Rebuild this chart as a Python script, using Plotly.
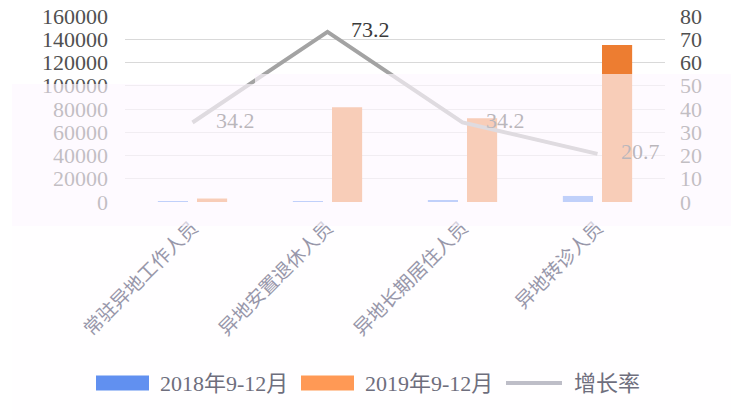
import plotly.graph_objects as go

# ---------------- data ----------------
categories = ["常驻异地工作人员", "异地安置退休人员", "异地长期居住人员", "异地转诊人员"]
series_2018_name = "2018年9-12月"
series_2019_name = "2019年9-12月"
growth_name = "增长率"
values_2018 = [300, 800, 1500, 5200]
values_2019 = [3000, 81500, 72000, 135000]
growth_rate = [34.2, 73.2, 34.2, 20.7]
left_ticks = [0, 20000, 40000, 60000, 80000, 100000, 120000, 140000, 160000]
right_ticks = [0, 10, 20, 30, 40, 50, 60, 70, 80]

# ---------------- styling ----------------
W, H = 731, 420
L, R, T, B = 125, 665, 16, 202          # plot area in pixels
FONT = "Liberation Serif, Noto Sans CJK SC, serif"
BLUE = "#4A84F0"
ORANGE = "#ED7D31"
LINE = "#A3A3A3"

def px(x):
    return (x - L) / (R - L)

def py(y):
    return (B - y) / (B - T)

fig = go.Figure()
fig.add_trace(go.Bar(x=categories, y=values_2018, name=series_2018_name,
                     marker=dict(color=BLUE, line=dict(width=0)), showlegend=False))
fig.add_trace(go.Bar(x=categories, y=values_2019, name=series_2019_name,
                     marker=dict(color=ORANGE, line=dict(width=0)), showlegend=False))
fig.add_trace(go.Scatter(x=categories, y=growth_rate, name=growth_name, yaxis="y2",
                         mode="lines+markers+text",
                         line=dict(color=LINE, width=4),
                         marker=dict(size=36, color="rgba(0,0,0,0)"),
                         text=[f"{v:.1f}" for v in growth_rate],
                         textposition="middle right",
                         textfont=dict(family=FONT, size=22, color="#3A3A3A"),
                         cliponaxis=False, showlegend=False))

shapes = [
    # translucent wash seen over the lower part of the reference image
    dict(type="rect", xref="paper", yref="paper", x0=px(12), x1=px(255), y0=py(226), y1=py(84),
         fillcolor="rgba(253,248,255,0.66)", line=dict(width=0), layer="above"),
    dict(type="rect", xref="paper", yref="paper", x0=px(255), x1=px(731), y0=py(226), y1=py(74),
         fillcolor="rgba(253,248,255,0.66)", line=dict(width=0), layer="above"),
    dict(type="rect", xref="paper", yref="paper", x0=px(12), x1=px(731), y0=py(420), y1=py(226),
         fillcolor="rgba(252,248,255,0.12)", line=dict(width=0), layer="above"),
]

# custom legend (wide swatches like the reference)
ly = 383
lx = 96
legend_items = [
    ("rect", "#6190F0", series_2018_name, 128),
    ("rect", "#FF9955", series_2019_name, 128),
    ("line", "#BEBEC8", growth_name, 66),
]
annotations = []
x = lx
for kind, col, label, tw in legend_items:
    if kind == "rect":
        shapes.append(dict(type="rect", xref="paper", yref="paper", x0=px(x), x1=px(x + 53),
                           y0=py(ly + 7.5), y1=py(ly - 7.5), fillcolor=col, line=dict(width=0),
                           layer="above"))
        x += 53 + 9
    else:
        shapes.append(dict(type="line", xref="paper", yref="paper", x0=px(x), x1=px(x + 56),
                           y0=py(ly), y1=py(ly), line=dict(color=col, width=4), layer="above"))
        x += 56 + 10
    annotations.append(dict(xref="paper", yref="paper", x=px(x), y=py(ly), text=label,
                            showarrow=False, xanchor="left", yanchor="middle",
                            font=dict(family=FONT, size=22, color="#6E6E7D")))
    x += tw + 15

fig.update_layout(
    width=W, height=H,
    margin=dict(l=L, r=W - R, t=T, b=H - B, pad=0, autoexpand=False),
    paper_bgcolor="white", plot_bgcolor="white",
    barmode="group", bargap=0.42, bargroupgap=0.23,
    font=dict(family=FONT, size=22, color="#505050"),
    xaxis=dict(type="category", tickangle=-45, showgrid=False, showline=False, ticks="",
               automargin=False,
               tickfont=dict(family=FONT, size=19, color="#8A8A9E"), ticklabelstandoff=10),
    yaxis=dict(range=[0, 160000], tickvals=left_ticks, ticktext=[str(v) for v in left_ticks],
               showgrid=True, gridcolor="#D9D9D9", gridwidth=1, zeroline=False, showline=False,
               automargin=False,
               ticks="", tickfont=dict(family=FONT, size=22, color="#505050"),
               ticklabelstandoff=16),
    yaxis2=dict(range=[0, 80], tickvals=right_ticks, overlaying="y", side="right",
                showgrid=False, zeroline=False, showline=False, ticks="", automargin=False,
                tickfont=dict(family=FONT, size=22, color="#505050"), ticklabelstandoff=14),
    shapes=shapes,
    annotations=annotations,
    showlegend=False,
)

fig.write_html("out.html", config={"displayModeBar": False},
               post_script="document.body.style.margin='0';document.body.style.overflow='hidden';")
